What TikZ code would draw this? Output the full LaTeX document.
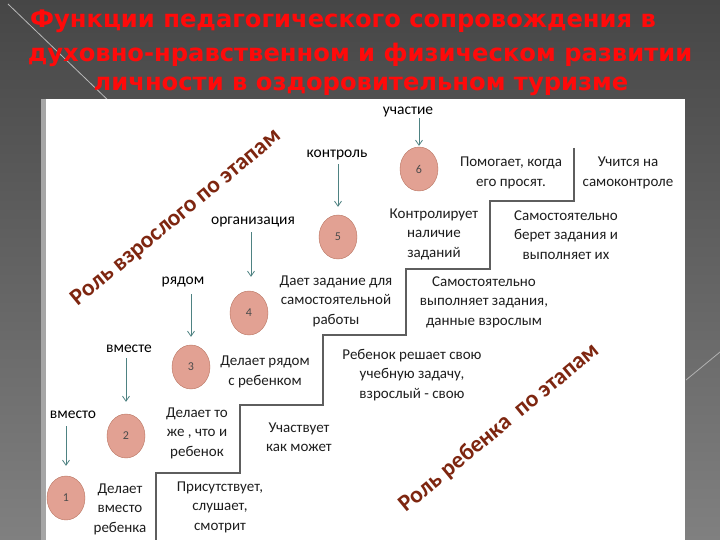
\documentclass[tikz,border=0pt]{standalone}
\usepackage{fontspec}
\setmainfont{Carlito}
\newfontfamily\titlefont{DejaVu Sans}
\usetikzlibrary{shapes.geometric,arrows.meta}

\definecolor{bgtop}{HTML}{464646}
\definecolor{bgbot}{HTML}{808080}
\definecolor{stepcol}{HTML}{5E5E5E}
\definecolor{arrcol}{HTML}{4E8282}
\definecolor{circfill}{HTML}{E2A193}
\definecolor{circline}{HTML}{B8735F}
\definecolor{rolecol}{HTML}{7E2610}
\definecolor{titlecol}{HTML}{FF0A0A}
\definecolor{textcol}{HTML}{1E1E1E}

\begin{document}
\begin{tikzpicture}[x=1pt, y=-1pt,
    circ/.style={ellipse, draw=circline, fill=circfill, minimum width=38pt, minimum height=44pt, inner sep=0pt, font=\fontsize{12}{12}\selectfont, text=textcol!80},
    stage/.style={align=center, inner sep=1pt, text=textcol, font=\fontsize{15}{19.5}\selectfont},
    word/.style={inner sep=1pt, text=black, font=\fontsize{15.5}{16}\selectfont},
    arr/.style={draw=arrcol, line width=0.8pt, -{Straight Barb[length=5pt,width=7pt]}},
    stair/.style={draw=stepcol, line width=1.1pt},
    role/.style={rotate=39.5, text=rolecol, font=\bfseries\fontsize{23.5}{24}\selectfont},
    title/.style={text=titlecol, font=\titlefont\bfseries\fontsize{24.2}{25}\selectfont}]
    \useasboundingbox (0,0) rectangle (720,540);
    \shade[top color=bgtop, bottom color=bgbot] (0,0) rectangle (720,540);
    \draw[gray!55, line width=0.8pt] (8,4) -- (112,104);
    \draw[gray!60, line width=0.8pt] (686,380) -- (720,352);
    \fill[gray!70] (41,99) rectangle (46,540);
    \fill[white] (46,99) rectangle (685,540);

    \node[title] (title1) at (343,21) {Функции педагогического сопровождения в};
    \node[title] (title2) at (360,55) {духовно-нравственном и физическом развитии};
    \node[title] (title3) at (361,86) {личности в оздоровительном туризме};

    \draw[stair] (574,148) -- (574,201) -- (490,201) -- (490,269) -- (406,269) -- (406,335)
        -- (323,335) -- (323,405) -- (240,405) -- (240,473) -- (156,473) -- (156,540);

    \node[circ] (c6) at (419,169) {6};
    \node[circ] (c5) at (338,237) {5};
    \node[circ] (c4) at (249,313) {4};
    \node[circ] (c3) at (191,367) {3};
    \node[circ] (c2) at (126,436) {2};
    \node[circ] (c1) at (66,498) {1};

    \node[word] (lab6) at (408,112) {участие};
    \node[word] (lab5) at (337,155) {контроль};
    \node[word] (lab4) at (253,222) {организация};
    \node[word] (lab3) at (183,282) {рядом};
    \node[word] (lab2) at (129,349) {вместе};
    \node[word, fill=white] (lab1) at (73,415) {вместо};

    \draw[arr] (lab6.south -| c6.north) -- ([yshift=1pt]c6.north);
    \draw[arr] ([yshift=-3pt]lab5.south -| c5.north) -- ([yshift=8pt]c5.north);
    \draw[arr] ([yshift=-4pt]lab4.south -| 251,0) -- ([yshift=14pt]c4.north -| 251,0);
    \draw[arr] ([yshift=-6pt]lab3.south -| c3.north) -- ([yshift=8pt]c3.north);
    \draw[arr] ([yshift=-4pt]lab2.south -| c2.north) -- ([yshift=12pt]c2.north);
    \draw[arr] ([yshift=-6pt]lab1.south -| c1.north) -- ([yshift=10pt]c1.north);

    \node[stage] (adult6) at (511,173) {Помогает, когда\\его просят.};
    \node[stage] (adult5) at (434,234) {Контролирует\\наличие\\заданий};
    \node[stage] (adult4) at (336,301) {Дает задание для\\самостоятельной\\работы};
    \node[stage] (adult3) at (265,372) {Делает рядом\\с ребенком};
    \node[stage] (adult2) at (197,433) {Делает то\\же , что и\\ребенок};
    \node[stage] (adult1) at (120,509) {Делает\\вместо\\ребенка};

    \node[stage] (child6) at (628,173) {Учится на\\самоконтроле};
    \node[stage] (child5) at (566,235) {Самостоятельно\\берет задания и\\выполняет их};
    \node[stage] (child4) at (484,302) {Самостоятельно\\выполняет задания,\\данные взрослым};
    \node[stage] (child3) at (412,375) {Ребенок решает свою\\учебную задачу,\\взрослый - свою};
    \node[stage] (child2) at (299,437) {Участвует\\как может};
    \node[stage] (child1) at (220,507) {Присутствует,\\слушает,\\смотрит};

    \node[role] (adultrole) at (176,218) {Роль взрослого по этапам};
    \node[role] (childrole) at (499,428) {Роль ребенка\ \ по этапам};
\end{tikzpicture}
\end{document}
